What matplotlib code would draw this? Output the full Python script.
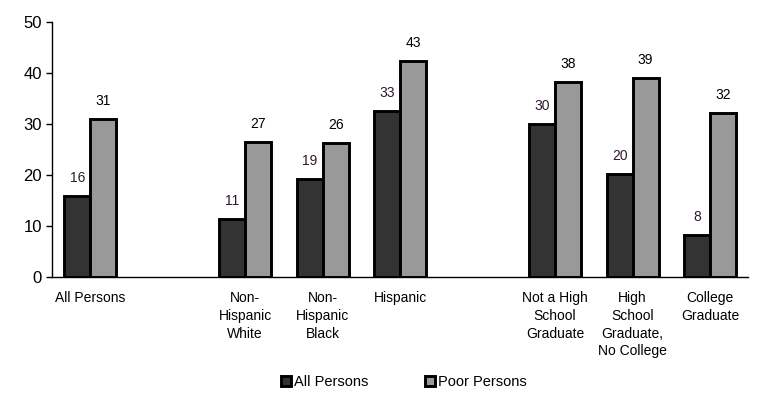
import numpy as np
import matplotlib.pyplot as plt

plt.rcParams['font.family'] = ['Liberation Sans', 'DejaVu Sans']

# group labels and their slot positions (gaps between the three sets)
categories = ['All Persons', 'Non-\nHispanic\nWhite', 'Non-\nHispanic\nBlack', 'Hispanic',
              'Not a High\nSchool\nGraduate', 'High\nSchool\nGraduate,\nNo College',
              'College\nGraduate']
slots = [0, 2, 3, 4, 6, 7, 8]

all_persons = [15.9, 11.4, 19.2, 32.5, 30.0, 20.2, 8.2]
poor_persons = [31.0, 26.5, 26.3, 42.4, 38.2, 39.0, 32.2]
all_labels = ['16', '11', '19', '33', '30', '20', '8']
poor_labels = ['31', '27', '26', '43', '38', '39', '32']

fig = plt.figure(figsize=(7.68, 4), dpi=100)
ax = fig.add_axes([0.068, 0.3075, 0.906, 0.6375])

x = np.array(slots, dtype=float)
w = 0.335
b1 = ax.bar(x - w / 2, all_persons, w, color='#333333', edgecolor='black',
            linewidth=2.1, label='All Persons')
b2 = ax.bar(x + w / 2, poor_persons, w, color='#999999', edgecolor='black',
            linewidth=2.1, label='Poor Persons')

for rect, lab in zip(b1, all_labels):
    ax.annotate(lab, (rect.get_x() + rect.get_width() / 2, rect.get_height()),
                xytext=(0, 8), textcoords='offset points', ha='center', va='bottom',
                fontsize=10, color='#301830')
for rect, lab in zip(b2, poor_labels):
    ax.annotate(lab, (rect.get_x() + rect.get_width() / 2, rect.get_height()),
                xytext=(0, 8), textcoords='offset points', ha='center', va='bottom',
                fontsize=10, color='black')

ax.set_xlim(-0.49, 8.49)
ax.set_ylim(0, 50)
ax.set_yticks([0, 10, 20, 30, 40, 50])
ax.tick_params(axis='y', labelsize=12, length=4, width=1, direction='out')
ax.set_xticks(x)
ax.set_xticklabels(categories, fontsize=10, va='top', linespacing=1.35)
ax.tick_params(axis='x', length=0, pad=10)

for s in ['top', 'right']:
    ax.spines[s].set_visible(False)
ax.spines['left'].set_linewidth(1)
ax.spines['bottom'].set_linewidth(1)

fig.legend(handles=[b1, b2], labels=['All Persons', 'Poor Persons'], ncol=2,
           loc='center', bbox_to_anchor=(0.526, 0.045), frameon=False, fontsize=10.5,
           handlelength=0.7, handleheight=0.7, handletextpad=0.2, columnspacing=3.9)

fig.savefig('out.png', dpi=100)
